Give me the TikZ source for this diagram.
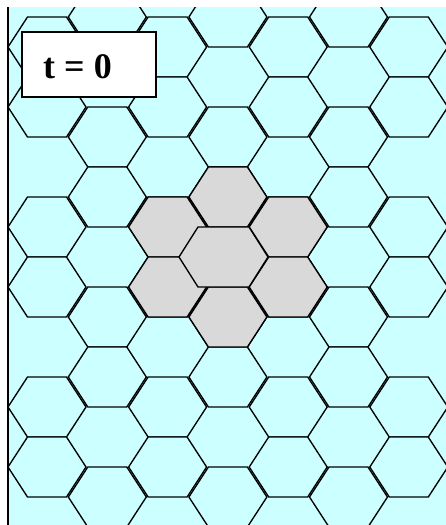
\documentclass[tikz,border=0pt]{standalone}
\usepackage{fontspec}
\setmainfont{Liberation Serif}
\definecolor{cyanbg}{HTML}{CCFFFF}
\definecolor{cellgray}{HTML}{D9D9D9}
\newcommand\hexcell[3]{%
  \draw[#3] ({#1-38.5},#2) -- ++(19.5,-30) -- ++(39,0) -- ++(19.5,30)
     -- ++(-19.5,30) -- ++(-39,0) -- cycle;}
\begin{document}
\begin{tikzpicture}[x=1pt,y=-1pt,
  hexline/.style={draw=black,line width=1.35pt,line join=miter},
  cell/.style={hexline,fill=cyanbg},
  graycell/.style={hexline,fill=cellgray},
  labelbox/.style={draw=black,line width=1.7pt,fill=white,minimum width=134pt,minimum height=65pt,inner sep=0pt},
  labeltext/.style={font=\fontsize{36}{40}\selectfont\bfseries,inner sep=0pt,anchor=base}]
\useasboundingbox (0,0) rectangle (446,525);
\fill[white] (0,0) rectangle (446,525);
\fill[cyanbg] (8,7) rectangle (446,525);
\begin{scope}
  \clip (8,7) rectangle (446,525);
  % even columns
  \foreach \i in {0,2,4,6}{
    \foreach \yy in {47,107,227,287,407,467}{
      \pgfmathsetmacro\cx{46.5+60.3*\i}
      \hexcell{\cx}{\yy}{cell}
    }
  }
  % odd columns
  \foreach \i in {1,3,5}{
    \foreach \yy in {17,137,197,317,377,497}{
      \pgfmathsetmacro\cx{46.5+60.3*\i}
      \hexcell{\cx}{\yy}{cell}
    }
  }
  % grey cluster
  \foreach \i/\yy in {2/227,2/287,3/197,3/317,4/227,4/287}{
    \pgfmathsetmacro\cx{46.5+60.3*\i}
    \hexcell{\cx}{\yy}{graycell}
  }
  % central enlarged grey cell
  \draw[graycell] (179,257) -- ++(19,-30) -- ++(51,0) -- ++(19,30)
     -- ++(-19,30) -- ++(-51,0) -- cycle;
\end{scope}
\draw[line width=1.5pt] (8,7) -- (8,525);
\node[labelbox] (lbl) at (89,64.5) {};
\node[labeltext] (lbltxt) at (77.5,78) {t = 0};
\end{tikzpicture}
\end{document}
